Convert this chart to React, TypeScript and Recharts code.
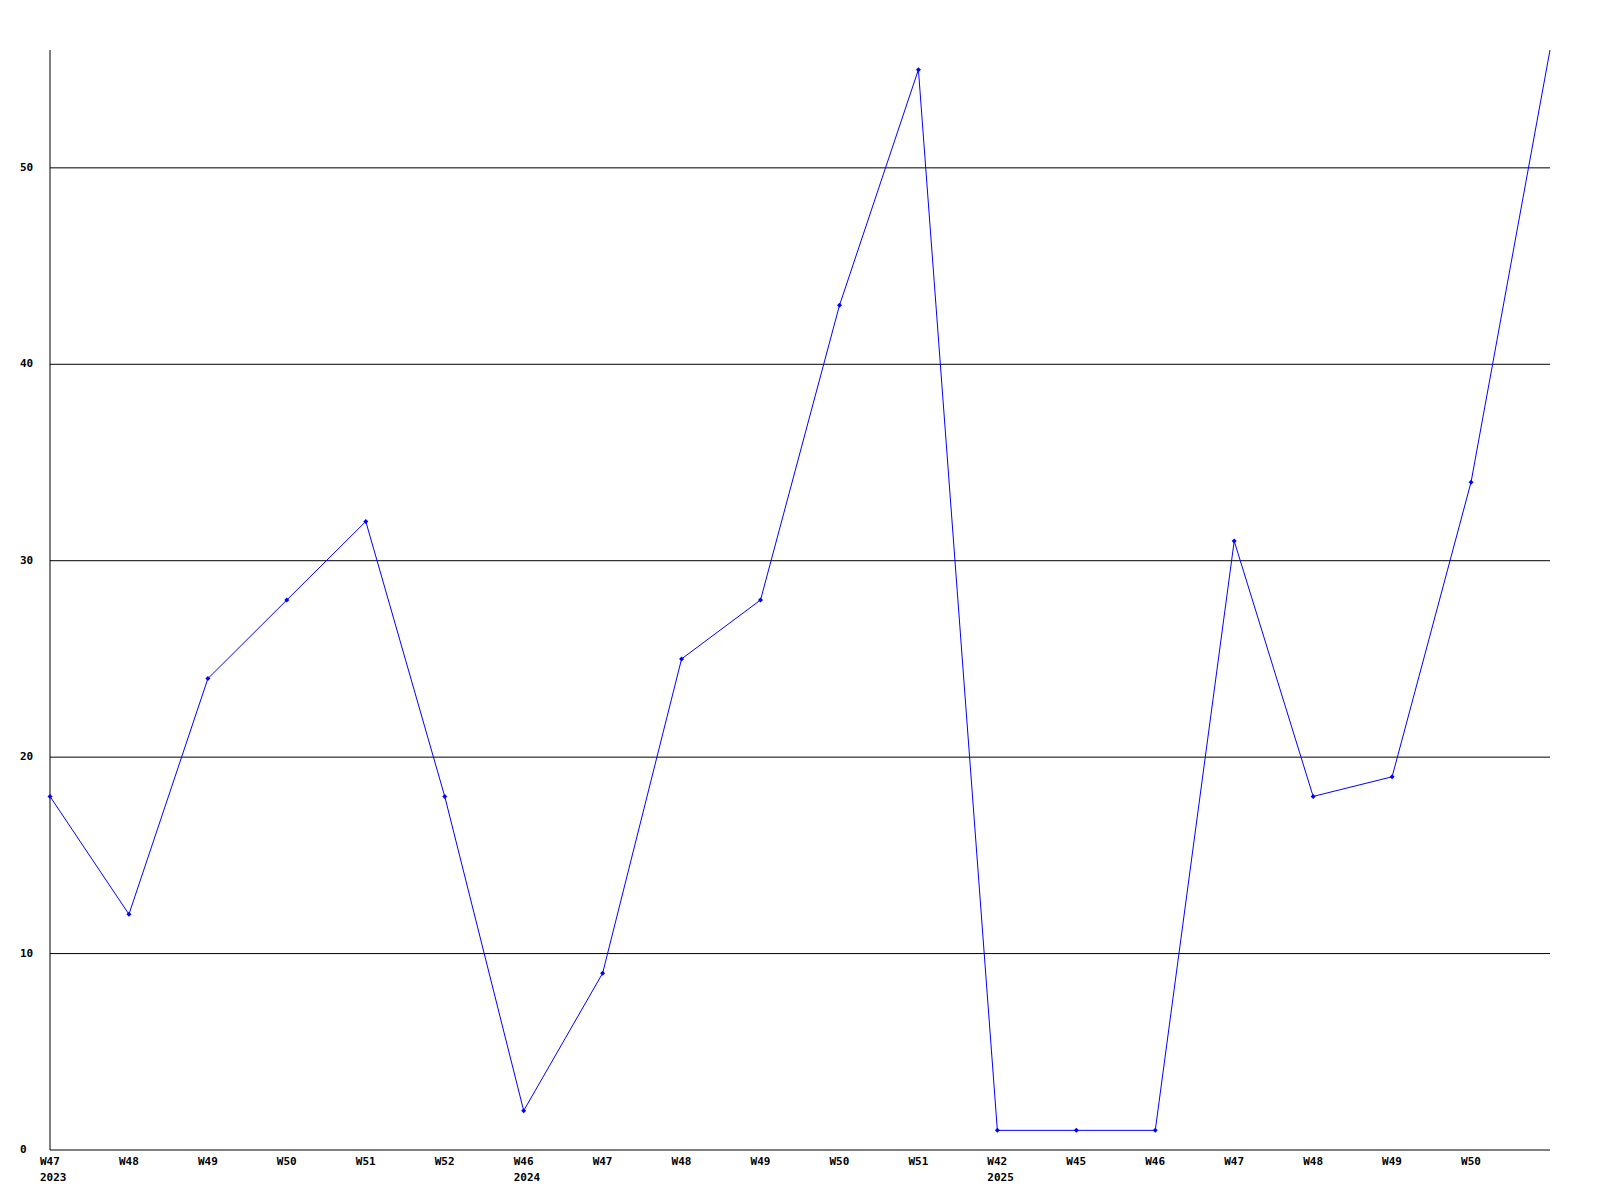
import { Line, LineChart, ReferenceLine, XAxis, YAxis } from "recharts";

const weeks = ["W47", "W48", "W49", "W50", "W51", "W52", "W46", "W47", "W48", "W49", "W50", "W51", "W42", "W45", "W46", "W47", "W48", "W49", "W50", ""];
const years = ["2023", "", "", "", "", "", "2024", "", "", "", "", "", "2025", "", "", "", "", "", "", ""];
const values = [18, 12, 24, 28, 32, 18, 2, 9, 25, 28, 43, 55, 1, 1, 1, 31, 18, 19, 34, 56];
const yTicks = [0, 10, 20, 30, 40, 50];

const data = values.map((v, i) => ({ idx: i, week: weeks[i], year: years[i], value: v }));

const font = "'DejaVu Sans Mono', monospace";

function WeekTick(props: any) {
  const { x, y, payload } = props;
  const i = payload.value as number;
  return (
    <g>
      <text x={x - 10} y={y + 4} fontSize={11} fontWeight="bold" fontFamily={font} fill="#000" dominantBaseline="middle">
        {weeks[i]}
      </text>
      {years[i] && (
        <text x={x - 10} y={y + 20} fontSize={11} fontWeight="bold" fontFamily={font} fill="#000" dominantBaseline="middle">
          {years[i]}
        </text>
      )}
    </g>
  );
}

// labels sit left-aligned in the gutter
function ValueTick(props: any) {
  const { x, y, payload } = props;
  return (
    <text x={x - 22} y={y} fontSize={11} fontWeight="bold" fontFamily={font} fill="#000" textAnchor="start" dominantBaseline="middle">
      {payload.value}
    </text>
  );
}

function Marker(props: any) {
  const { cx, cy, index } = props;
  if (index === values.length - 1) return <g key={index} />;
  return <polygon key={index} points={`${cx},${cy - 2.5} ${cx + 2.5},${cy} ${cx},${cy + 2.5} ${cx - 2.5},${cy}`} fill="#0000ff" />;
}

export default function App() {
  return (
    <div style={{ position: "absolute", left: 0, top: 0, background: "#fff" }}>
      <LineChart width={1600} height={1200} data={data} margin={{ top: 50, right: 50, left: 0, bottom: 0 }}>
        {yTicks.slice(1).map((t) => (
          <ReferenceLine key={t} y={t} stroke="#000" strokeWidth={1} />
        ))}
        <XAxis
          dataKey="idx"
          type="number"
          domain={[0, values.length - 1]}
          ticks={data.map((d) => d.idx)}
          tick={<WeekTick />}
          tickLine={false}
          axisLine={{ stroke: "#000" }}
          height={50}
          interval={0}
        />
        <YAxis
          domain={[0, 56]}
          ticks={yTicks}
          tick={<ValueTick />}
          tickLine={false}
          axisLine={{ stroke: "#000" }}
          width={50}
          allowDataOverflow
        />
        <Line dataKey="value" stroke="#0000ff" strokeWidth={1} dot={<Marker />} isAnimationActive={false} />
      </LineChart>
    </div>
  );
}
